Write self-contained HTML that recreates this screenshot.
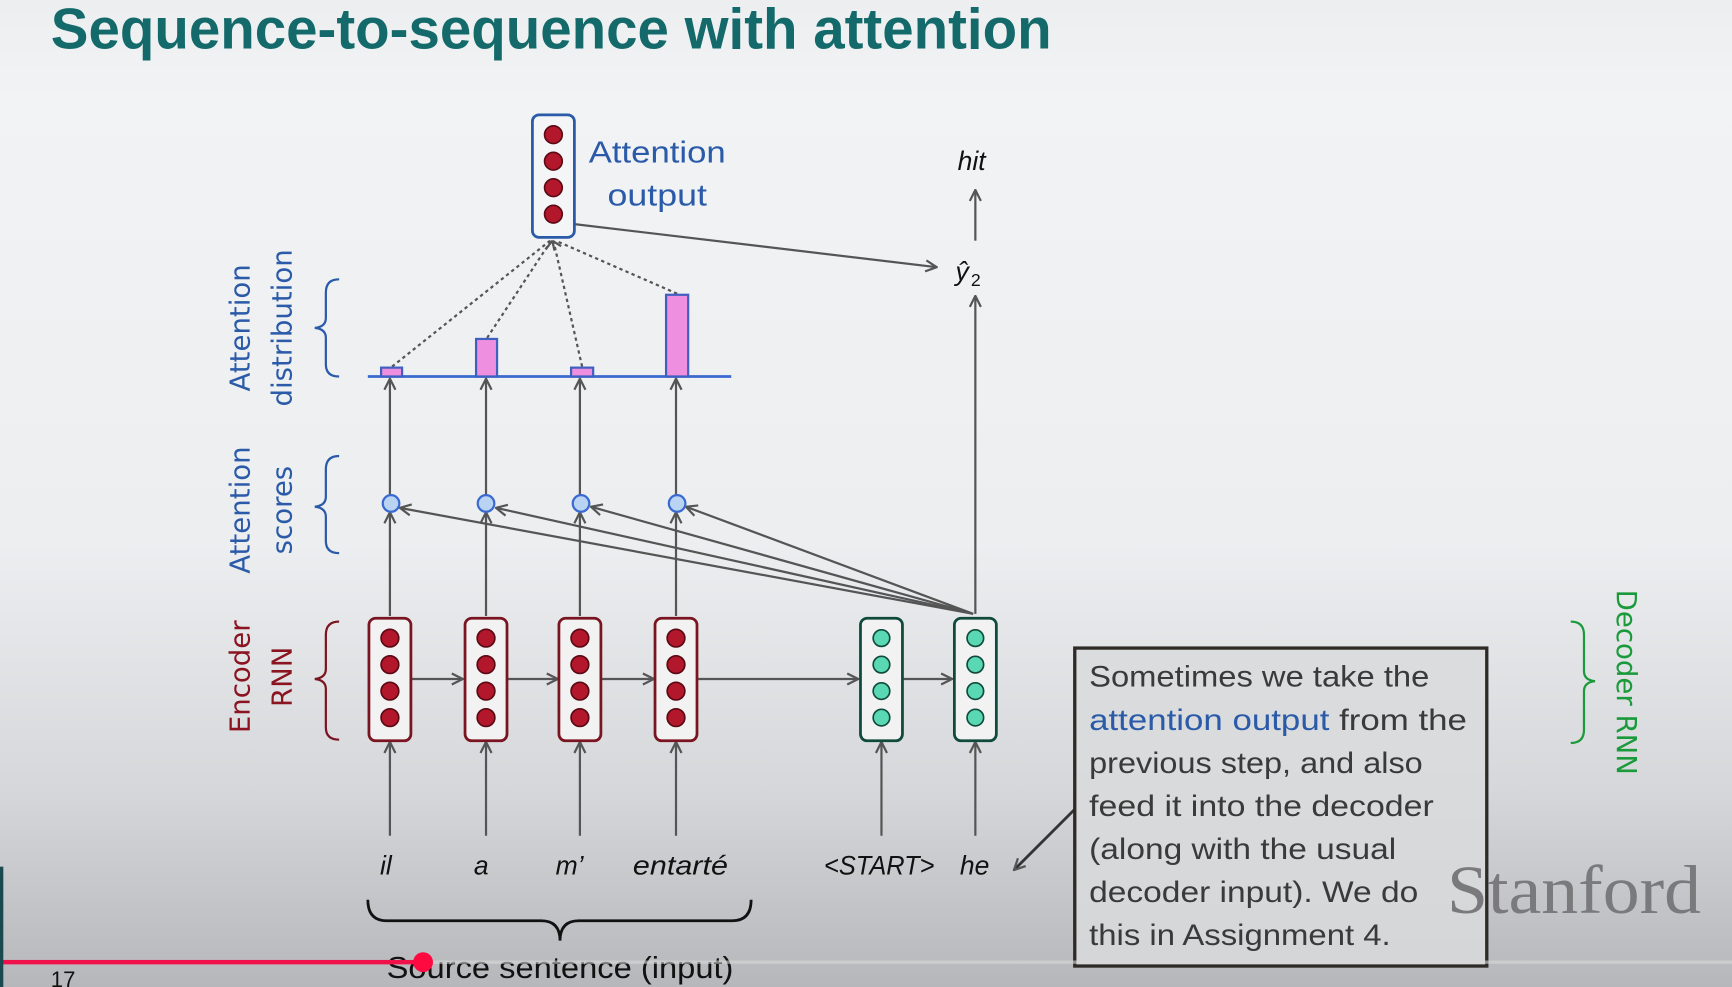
<!DOCTYPE html>
<html><head><meta charset="utf-8"><style>
html,body{margin:0;padding:0;width:1732px;height:987px;overflow:hidden;}
svg{display:block}
</style></head><body>
<svg width="1732" height="987" viewBox="0 0 1568 894" preserveAspectRatio="none" xmlns="http://www.w3.org/2000/svg">
<defs>
<linearGradient id="bg" x1="0" y1="0" x2="0" y2="1">
<stop offset="0" stop-color="#eceef0"/><stop offset="0.1" stop-color="#f1f3f5"/><stop offset="0.55" stop-color="#eceef0"/><stop offset="0.8" stop-color="#d6d7da"/><stop offset="1" stop-color="#b6b7ba"/>
</linearGradient>
<marker id="ah" viewBox="0 0 12 12" refX="11" refY="6" markerWidth="12" markerHeight="12" markerUnits="userSpaceOnUse" orient="auto"><path d="M1,1 L11,6 L1,11" fill="none" stroke="#555" stroke-width="2"/></marker>
</defs>
<rect width="1568" height="894" fill="url(#bg)"/>
<text x="46" y="44" font-family="Liberation Sans, sans-serif" font-weight="bold" font-size="52" fill="#146a6a" textLength="906" lengthAdjust="spacingAndGlyphs">Sequence-to-sequence with attention</text>

<g stroke="#555" stroke-width="2" fill="none">
<line x1="353" y1="757" x2="353" y2="672" marker-end="url(#ah)"/>
<line x1="440" y1="757" x2="440" y2="672" marker-end="url(#ah)"/>
<line x1="525" y1="757" x2="525" y2="672" marker-end="url(#ah)"/>
<line x1="612" y1="757" x2="612" y2="672" marker-end="url(#ah)"/>
<line x1="798" y1="757" x2="798" y2="672" marker-end="url(#ah)"/>
<line x1="883" y1="757" x2="883" y2="672" marker-end="url(#ah)"/>
<line x1="373" y1="615" x2="419" y2="615" marker-end="url(#ah)"/>
<line x1="460" y1="615" x2="505" y2="615" marker-end="url(#ah)"/>
<line x1="545" y1="615" x2="592" y2="615" marker-end="url(#ah)"/>
<line x1="632" y1="615" x2="777" y2="615" marker-end="url(#ah)"/>
<line x1="818" y1="615" x2="862" y2="615" marker-end="url(#ah)"/>
<line x1="353" y1="558" x2="353" y2="464" marker-end="url(#ah)"/>
<line x1="440" y1="558" x2="440" y2="464" marker-end="url(#ah)"/>
<line x1="525" y1="558" x2="525" y2="464" marker-end="url(#ah)"/>
<line x1="612" y1="558" x2="612" y2="464" marker-end="url(#ah)"/>
<line x1="353" y1="448" x2="353" y2="343" marker-end="url(#ah)"/>
<line x1="440" y1="448" x2="440" y2="343" marker-end="url(#ah)"/>
<line x1="525" y1="448" x2="525" y2="343" marker-end="url(#ah)"/>
<line x1="612" y1="448" x2="612" y2="343" marker-end="url(#ah)"/>
<line x1="881" y1="556" x2="362" y2="460" marker-end="url(#ah)"/>
<line x1="881" y1="556" x2="449" y2="460" marker-end="url(#ah)"/>
<line x1="881" y1="556" x2="535" y2="459" marker-end="url(#ah)"/>
<line x1="881" y1="556" x2="621" y2="459" marker-end="url(#ah)"/>
<line x1="883" y1="556" x2="883" y2="268" marker-end="url(#ah)"/>
<line x1="883" y1="218" x2="883" y2="172" marker-end="url(#ah)"/>
<line x1="520" y1="203" x2="848" y2="242" marker-end="url(#ah)"/>
<g stroke-dasharray="3,3">
<line x1="355" y1="332" x2="498" y2="218"/>
<line x1="441" y1="306" x2="499" y2="218"/>
<line x1="527" y1="332" x2="501" y2="218"/>
<line x1="613" y1="266" x2="503" y2="218"/>
</g>
<path d="M500,218 l-6,8 M500,218 l2,9 M500,218 l8,5" />
</g>

<line x1="333" y1="341" x2="662" y2="341" stroke="#3a6ad0" stroke-width="2.5"/>
<g fill="#ef8fe0" stroke="#4060c0" stroke-width="2">
<rect x="345" y="333" width="19" height="8"/>
<rect x="431" y="307" width="19" height="34"/>
<rect x="517" y="333" width="20" height="8"/>
<rect x="603" y="267" width="20" height="74"/>
</g>
<g fill="#b9d3f3" stroke="#3a6ad0" stroke-width="2">
<circle cx="354" cy="456" r="7.5"/><circle cx="440" cy="456" r="7.5"/><circle cx="526" cy="456" r="7.5"/><circle cx="613" cy="456" r="7.5"/>
</g>

<g stroke="#7a1420" stroke-width="2.5" fill="#f2f2f3">
<rect x="334" y="560" width="38" height="111" rx="6"/>
<rect x="421" y="560" width="38" height="111" rx="6"/>
<rect x="506" y="560" width="38" height="111" rx="6"/>
<rect x="593" y="560" width="38" height="111" rx="6"/>
</g>
<g fill="#b3172b" stroke="#5a0a14" stroke-width="1.5">
<circle cx="353" cy="578" r="8"/><circle cx="353" cy="602" r="8"/><circle cx="353" cy="626" r="8"/><circle cx="353" cy="650" r="8"/>
<circle cx="440" cy="578" r="8"/><circle cx="440" cy="602" r="8"/><circle cx="440" cy="626" r="8"/><circle cx="440" cy="650" r="8"/>
<circle cx="525" cy="578" r="8"/><circle cx="525" cy="602" r="8"/><circle cx="525" cy="626" r="8"/><circle cx="525" cy="650" r="8"/>
<circle cx="612" cy="578" r="8"/><circle cx="612" cy="602" r="8"/><circle cx="612" cy="626" r="8"/><circle cx="612" cy="650" r="8"/>
</g>
<g stroke="#0f4a3a" stroke-width="2.5" fill="#f2f2f3">
<rect x="779" y="560" width="38" height="111" rx="6"/>
<rect x="864" y="560" width="38" height="111" rx="6"/>
</g>
<g fill="#5ad8b4" stroke="#0f4a3a" stroke-width="1.5">
<circle cx="798" cy="578" r="7.5"/><circle cx="798" cy="602" r="7.5"/><circle cx="798" cy="626" r="7.5"/><circle cx="798" cy="650" r="7.5"/>
<circle cx="883" cy="578" r="7.5"/><circle cx="883" cy="602" r="7.5"/><circle cx="883" cy="626" r="7.5"/><circle cx="883" cy="650" r="7.5"/>
</g>
<rect x="482" y="104" width="38" height="111" rx="6" fill="#f4f5f7" stroke="#2a5aa8" stroke-width="2.5"/>
<g fill="#b3172b" stroke="#5a0a14" stroke-width="1.5">
<circle cx="501" cy="122" r="8"/><circle cx="501" cy="146" r="8"/><circle cx="501" cy="170" r="8"/><circle cx="501" cy="194" r="8"/>
</g>
<g font-family="Liberation Sans, sans-serif" font-size="28" fill="#2a5aa8">
<text x="533" y="147" textLength="124" lengthAdjust="spacingAndGlyphs">Attention</text>
<text x="550" y="186" textLength="90" lengthAdjust="spacingAndGlyphs">output</text>
</g>

<g font-family="Liberation Sans, sans-serif" font-style="italic" font-size="24" fill="#111">
<text x="344" y="792">il</text>
<text x="429" y="792">a</text>
<text x="503" y="792">m’</text>
<text x="573" y="792" textLength="86" lengthAdjust="spacingAndGlyphs">entarté</text>
<text x="746" y="792" textLength="100" lengthAdjust="spacingAndGlyphs">&lt;START&gt;</text>
<text x="869" y="792">he</text>
<text x="867" y="154">hit</text>
<text x="865" y="254">ŷ</text>
</g>
<text x="879" y="259" font-family="Liberation Sans, sans-serif" font-size="16" fill="#111">2</text>

<path d="M333,815 Q333,834 350,834 L490,834 Q507,834 507,852 Q507,834 524,834 L663,834 Q680,834 680,815" fill="none" stroke="#111" stroke-width="2.5"/>
<text x="350" y="886" font-family="Liberation Sans, sans-serif" font-size="28" fill="#111" textLength="314" lengthAdjust="spacingAndGlyphs">Source sentence (input)</text>

<g fill="none" stroke-width="2">
<path d="M307,253 Q295,253 295,265 L295,288 Q295,296 285,297 Q295,298 295,306 L295,330 Q295,341 307,341" stroke="#2a5aa8"/>
<path d="M307,413 Q295,413 295,425 L295,450 Q295,458 285,459 Q295,460 295,468 L295,490 Q295,501 307,501" stroke="#2a5aa8"/>
<path d="M307,563 Q295,563 295,575 L295,606 Q295,614 285,615 Q295,616 295,624 L295,659 Q295,670 307,670" stroke="#7a1420"/>
<path d="M1422,563 Q1434,563 1434,575 L1434,608 Q1434,616 1444,617 Q1434,618 1434,626 L1434,661 Q1434,673 1422,673" stroke="#1a9a3a"/>
</g>
<g font-family="DejaVu Sans, sans-serif" font-size="25">
<text transform="translate(226,297) rotate(-90)" text-anchor="middle" fill="#2a5aa8">Attention</text>
<text transform="translate(264,297) rotate(-90)" text-anchor="middle" fill="#2a5aa8">distribution</text>
<text transform="translate(226,462) rotate(-90)" text-anchor="middle" fill="#2a5aa8">Attention</text>
<text transform="translate(264,462) rotate(-90)" text-anchor="middle" fill="#2a5aa8">scores</text>
<text transform="translate(226,613) rotate(-90)" text-anchor="middle" fill="#8a1420">Encoder</text>
<text transform="translate(264,613) rotate(-90)" text-anchor="middle" fill="#8a1420">RNN</text>
<text transform="translate(1464,618) rotate(90)" text-anchor="middle" fill="#1a9a3a">Decoder RNN</text>
</g>

<line x1="973" y1="733" x2="918" y2="788" stroke="#333" stroke-width="2.5" marker-end="url(#ah)"/>
<rect x="973" y="587" width="373" height="288" fill="#d9dadc" fill-opacity="0.85" stroke="#2e2a26" stroke-width="3"/>
<text x="1310" y="827" font-family="Liberation Serif, serif" font-size="62" fill="#7a7a7c" textLength="230" lengthAdjust="spacingAndGlyphs">Stanford</text>
<g font-family="Liberation Sans, sans-serif" font-size="27" fill="#3a3a3a">
<text x="986" y="622" textLength="308" lengthAdjust="spacingAndGlyphs">Sometimes we take the</text>
<text x="986" y="661" textLength="342" lengthAdjust="spacingAndGlyphs"><tspan fill="#2a5aa8">attention output</tspan> from the</text>
<text x="986" y="700" textLength="302" lengthAdjust="spacingAndGlyphs">previous step, and also</text>
<text x="986" y="739" textLength="312" lengthAdjust="spacingAndGlyphs">feed it into the decoder</text>
<text x="986" y="778" textLength="278" lengthAdjust="spacingAndGlyphs">(along with the usual</text>
<text x="986" y="817" textLength="298" lengthAdjust="spacingAndGlyphs">decoder input). We do</text>
<text x="986" y="856" textLength="273" lengthAdjust="spacingAndGlyphs">this in Assignment 4.</text>
</g>

<rect x="0" y="870" width="1568" height="3" fill="#d8d8d8" fill-opacity="0.6"/>
<rect x="0" y="869.5" width="383" height="4" fill="#f0104a"/>
<circle cx="383" cy="871.5" r="9" fill="#ff0a40"/>
<rect x="0" y="785" width="3" height="109" fill="#1a4a50"/>
<text x="46" y="894" font-family="Liberation Sans, sans-serif" font-size="20" fill="#111">17</text>
</svg>
</body></html>
